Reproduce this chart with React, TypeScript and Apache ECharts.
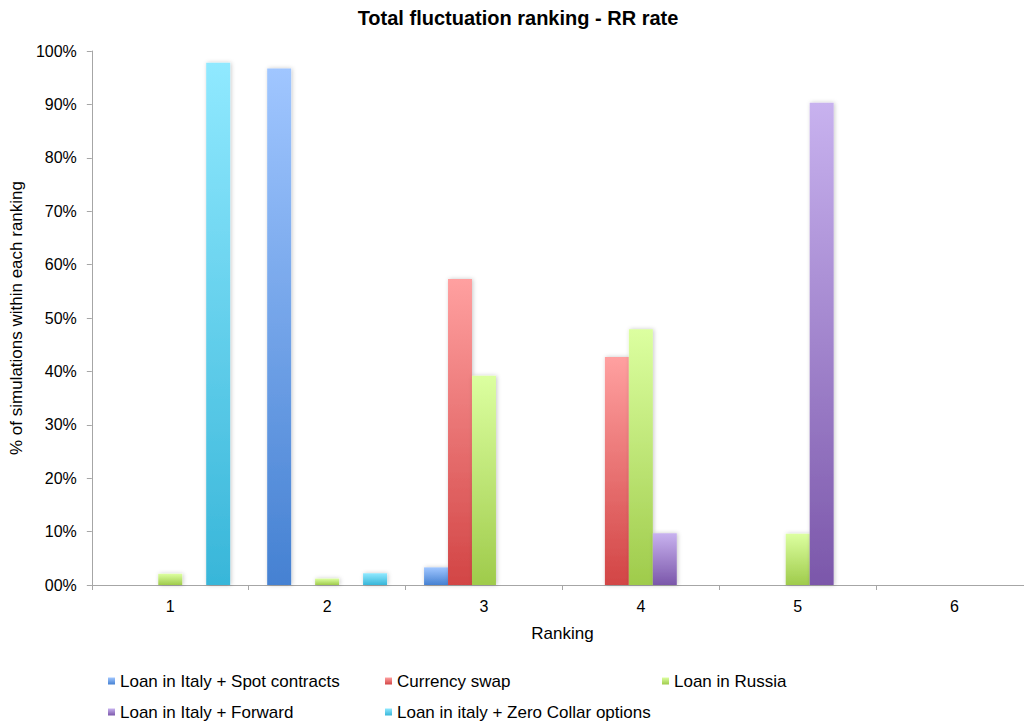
import React, { useEffect, useRef } from "react";
import * as echarts from "echarts";

const rankings = ["1", "2", "3", "4", "5", "6"];
const yTicks = [0, 10, 20, 30, 40, 50, 60, 70, 80, 90, 100];

const spotContracts = [0, 96.7, 3.3, 0, 0, 0];
const currencySwap = [0, 0, 57.3, 42.7, 0, 0];
const loanRussia = [2.1, 1.2, 39.2, 47.9, 9.6, 0];
const forward = [0, 0, 0, 9.7, 90.3, 0];
const zeroCollar = [97.8, 2.2, 0, 0, 0, 0];

const seriesDefs = [
  { name: "Loan in Italy + Spot contracts", data: spotContracts, top: "#a0c6ff", bottom: "#4581d2" },
  { name: "Currency swap", data: currencySwap, top: "#ffa0a0", bottom: "#d24545" },
  { name: "Loan in Russia", data: loanRussia, top: "#dcffa0", bottom: "#9fcb4b" },
  { name: "Loan in Italy + Forward", data: forward, top: "#c8b2ef", bottom: "#7b57aa" },
  { name: "Loan in italy + Zero Collar options", data: zeroCollar, top: "#90e9ff", bottom: "#38b6d9" },
];

const FONT = "'Liberation Sans', Arial, sans-serif";

export default function App() {
  const ref = useRef<HTMLDivElement>(null);

  useEffect(() => {
    if (!ref.current) return;
    const chart = echarts.init(ref.current, undefined, { renderer: "svg" });

    const legendText = {
      fontFamily: FONT,
      fontSize: 17,
      lineHeight: 18,
      color: "#000",
      width: 255,
      overflow: "truncate" as const,
    };

    const legendBase = {
      left: 103,
      orient: "horizontal" as const,
      itemWidth: 7,
      itemHeight: 7,
      itemGap: 10,
      icon: "rect",
      textStyle: legendText,
    };

    chart.setOption({
      animation: false,
      backgroundColor: "#ffffff",
      title: {
        text: "Total fluctuation ranking - RR rate",
        left: "center",
        top: 3,
        textStyle: { fontFamily: FONT, fontSize: 20, fontWeight: "bold", color: "#000" },
      },
      legend: [
        { ...legendBase, data: seriesDefs.slice(0, 3).map((s) => s.name), top: 667 },
        { ...legendBase, data: seriesDefs.slice(3).map((s) => s.name), top: 698 },
      ],
      grid: { left: 91, top: 51, width: 942, height: 534, containLabel: false },
      xAxis: {
        type: "category",
        data: rankings,
        name: "Ranking",
        nameLocation: "middle",
        nameGap: 40,
        nameTextStyle: { fontFamily: FONT, fontSize: 17, color: "#000" },
        axisLine: { lineStyle: { color: "#a6a6a6", width: 1 } },
        axisTick: { show: true, length: 5, lineStyle: { color: "#a6a6a6" } },
        axisLabel: { fontFamily: FONT, fontSize: 16, color: "#000", margin: 13 },
      },
      yAxis: {
        type: "value",
        min: 0,
        max: 100,
        interval: 10,
        name: "% of simulations within each ranking",
        nameLocation: "middle",
        nameGap: 64,
        nameTextStyle: { fontFamily: FONT, fontSize: 17, color: "#000" },
        axisLine: { show: true, lineStyle: { color: "#a6a6a6", width: 1 } },
        axisTick: { show: true, length: 5, lineStyle: { color: "#a6a6a6" } },
        splitLine: { show: false },
        axisLabel: {
          fontFamily: FONT,
          fontSize: 16,
          color: "#000",
          margin: 15,
          customValues: yTicks,
          formatter: (v: number) => (v === 0 ? "00%" : `${v}%`),
        },
      },
      series: seriesDefs.map((s) => ({
        name: s.name,
        type: "bar",
        data: s.data.map((v) => (v === 0 ? "-" : v)),
        barGap: "0%",
        barCategoryGap: "23.6%",
        itemStyle: {
          color: new echarts.graphic.LinearGradient(0, 0, 0, 1, [
            { offset: 0, color: s.top },
            { offset: 1, color: s.bottom },
          ]),
          shadowBlur: 4,
          shadowColor: "rgba(0,0,0,0.22)",
          shadowOffsetX: 1,
          shadowOffsetY: 0,
        },
      })),
    });

    return () => chart.dispose();
  }, []);

  return (
    <div
      style={{
        position: "fixed",
        left: 0,
        top: 0,
        width: 1024,
        height: 723,
        overflow: "hidden",
        background: "#fff",
      }}
    >
      <div ref={ref} style={{ width: 1036, height: 723 }} />
    </div>
  );
}
